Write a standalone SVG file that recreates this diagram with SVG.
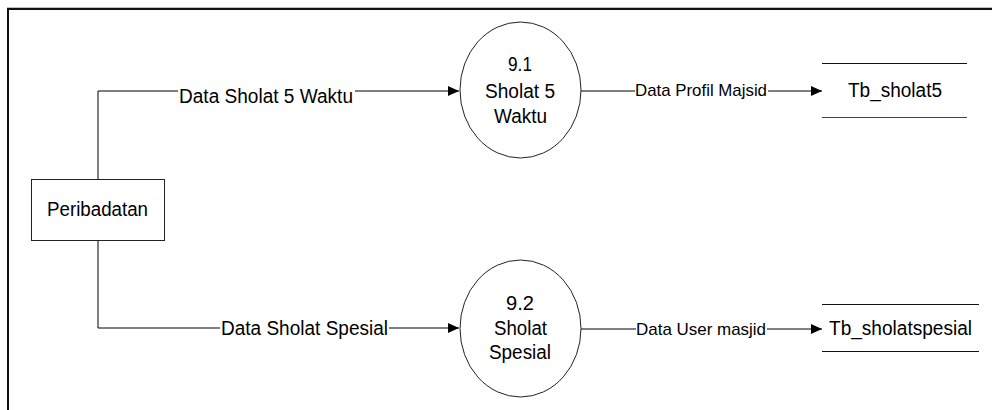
<svg xmlns="http://www.w3.org/2000/svg" width="992" height="410" viewBox="0 0 992 410">
<style>
  text { font-family: "Liberation Sans", Arial, sans-serif; fill: #000; }
  .lbl { font-size: 20px; }
  .flow { font-size: 17px; }
  .ln { stroke: #000; stroke-width: 1; fill: none; }
  .shape { stroke: #222; stroke-width: 1; fill: #fff; }
</style>
<defs>
  <marker id="arr" markerWidth="11" markerHeight="10" refX="11" refY="5" orient="auto" markerUnits="userSpaceOnUse">
    <path d="M0,0 L11,5 L0,10 Z" fill="#000"/>
  </marker>
</defs>
<rect x="0" y="0" width="992" height="410" fill="#fff"/>
<g id="frame">
  <line x1="7" y1="7.5" x2="992" y2="7.5" stroke="#c0c0c0" stroke-width="1"/>
  <path d="M8,410 V9 H992" stroke="#111" stroke-width="2" fill="none"/>
</g>
<g id="connectors">
  <path class="ln" d="M98,179 V91 H178"/>
  <path class="ln" d="M355,91 H459" marker-end="url(#arr)"/>
  <path class="ln" d="M98,240 V328 H220"/>
  <path class="ln" d="M389,328 H459" marker-end="url(#arr)"/>
  <path class="ln" d="M581,91 H635"/>
  <path class="ln" d="M768,91 H822" marker-end="url(#arr)"/>
  <path class="ln" d="M581,329 H636"/>
  <path class="ln" d="M767,329 H822" marker-end="url(#arr)"/>
  <text class="lbl" x="179" y="103" textLength="174" lengthAdjust="spacingAndGlyphs">Data Sholat 5 Waktu</text>
  <text class="lbl" x="221" y="335" textLength="167" lengthAdjust="spacingAndGlyphs">Data Sholat Spesial</text>
  <text class="flow" x="635" y="96" textLength="132" lengthAdjust="spacingAndGlyphs">Data Profil Majsid</text>
  <text class="flow" x="636" y="334.5" textLength="130" lengthAdjust="spacingAndGlyphs">Data User masjid</text>
</g>
<g id="peribadatan">
  <rect class="shape" x="31.5" y="179.5" width="133" height="61"/>
  <text class="lbl" x="47" y="216" textLength="101" lengthAdjust="spacingAndGlyphs">Peribadatan</text>
</g>
<g id="proc91">
  <ellipse class="shape" cx="520.5" cy="90" rx="60.5" ry="68"/>
  <text class="lbl" x="508" y="71" textLength="24" lengthAdjust="spacingAndGlyphs">9.1</text>
  <text class="lbl" x="485" y="98" textLength="70" lengthAdjust="spacingAndGlyphs">Sholat 5</text>
  <text class="lbl" x="494" y="123" textLength="53" lengthAdjust="spacingAndGlyphs">Waktu</text>
</g>
<g id="proc92">
  <ellipse class="shape" cx="520.5" cy="328.5" rx="60.5" ry="68.5"/>
  <text class="lbl" x="506" y="310" textLength="28" lengthAdjust="spacingAndGlyphs">9.2</text>
  <text class="lbl" x="494" y="335" textLength="53" lengthAdjust="spacingAndGlyphs">Sholat</text>
  <text class="lbl" x="489" y="359" textLength="62" lengthAdjust="spacingAndGlyphs">Spesial</text>
</g>
<g id="tb_sholat5">
  <line x1="822" y1="63.5" x2="967" y2="63.5" stroke="#111" stroke-width="1"/>
  <line x1="822" y1="117.5" x2="967" y2="117.5" stroke="#444" stroke-width="1"/>
  <text class="lbl" x="848" y="97" textLength="94" lengthAdjust="spacingAndGlyphs">Tb_sholat5</text>
</g>
<g id="tb_sholatspesial">
  <line x1="822" y1="304.5" x2="979" y2="304.5" stroke="#111" stroke-width="1"/>
  <line x1="822" y1="351.5" x2="979" y2="351.5" stroke="#111" stroke-width="1"/>
  <text class="lbl" x="829" y="335" textLength="143" lengthAdjust="spacingAndGlyphs">Tb_sholatspesial</text>
</g>
</svg>
